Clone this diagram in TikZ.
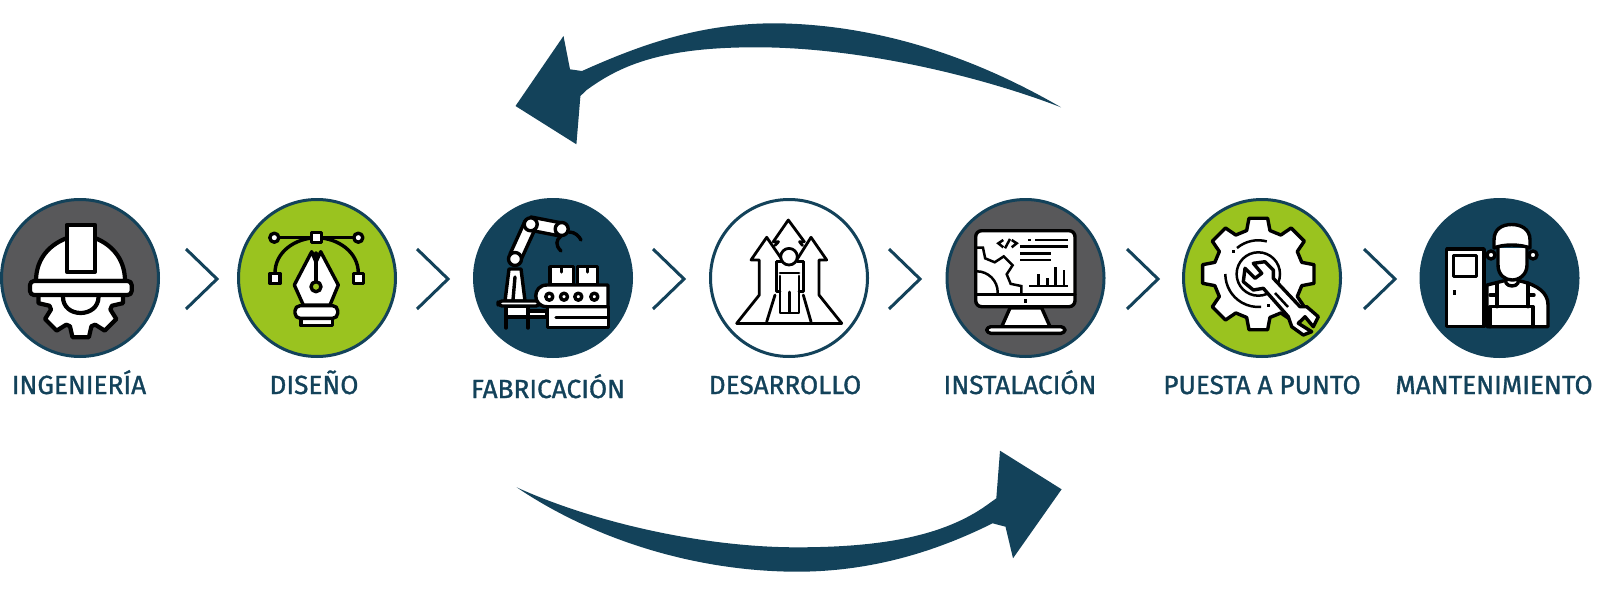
\documentclass[tikz,border=0pt]{standalone}
\usepackage{fontspec}
\setmainfont{Fira Sans}
\definecolor{navy}{HTML}{13425A}
\definecolor{leaf}{HTML}{9AC31F}
\definecolor{slate}{HTML}{58585A}
\tikzset{
    stepcircle/.style={circle,draw=navy,line width=1.5pt,minimum size=78.5pt,inner sep=0pt},
    steplabel/.style={anchor=base,text=navy,font=\fontsize{13.1}{15}\selectfont\addfontfeature{FakeBold=1.2}},
    chevron/.style={draw=navy,line width=1.5pt,line join=miter},
    iconline/.style={draw=black,fill=white,line width=1.7pt,line join=round,line cap=round},
    heavyline/.style={iconline,line width=2.1pt},
    pathline/.style={iconline,line width=1.4pt,fill=none},
    thinline/.style={draw=black,line width=1.25pt,line join=miter},
}
% gear outline round the origin: root radius, tip radius, half angles
\newcommand{\gearpath}[4]{(-#3:#1) \foreach \a in {0,45,...,315} {-- (\a-#3:#1) -- (\a-#4:#2) -- (\a+#4:#2) -- (\a+#3:#1)} -- cycle}
\begin{document}
\begin{tikzpicture}[x=.5pt,y=-.5pt]
    \useasboundingbox (0,0) rectangle (1600,594);

    % the steps
    \node [stepcircle,fill=slate] (ingenieria) at (80,278) {};
    \node [stepcircle,fill=leaf] (diseno) at (317,278) {};
    \node [stepcircle,fill=navy] (fabricacion) at (553,278) {};
    \node [stepcircle,fill=white] (desarrollo) at (789,278) {};
    \node [stepcircle,fill=slate] (instalacion) at (1025.5,278) {};
    \node [stepcircle,fill=leaf] (puesta) at (1262,278) {};
    \node [stepcircle,fill=navy] (mantenimiento) at (1499.5,278) {};

    \node [steplabel] (ingenierialabel) at (79,394) {INGENIERÍA};
    \node [steplabel] (disenolabel) at (314,394) {DISEÑO};
    \node [steplabel] (fabricacionlabel) at (548,398) {FABRICACIÓN};
    \node [steplabel] (desarrollolabel) at (785,394) {DESARROLLO};
    \node [steplabel] (instalacionlabel) at (1020,394) {INSTALACIÓN};
    \node [steplabel] (puestalabel) at (1262,394) {PUESTA A PUNTO};
    \node [steplabel] (mantenimientolabel) at (1494,394) {MANTENIMIENTO};

    \foreach \x in {186,417,653,889,1127,1364}
        \draw [chevron] (\x,249)--(\x+31,279)--(\x,309);

    % big arrows
    \coordinate (backtail) at (1061,107.3);
    \coordinate (forwardtail) at (516.6,487.3);
    \fill [navy] (backtail) .. controls (1000,72) and (900,25) .. (777,23.3)
        .. controls (700,23) and (640,45) .. (582,71)
        -- (570,69.3) -- (563.5,36) -- (515.5,106) -- (576.4,144.3) -- (580.4,96) -- (586.7,90)
        .. controls (622,64) and (665,47) .. (758,47.3)
        .. controls (860,47.5) and (980,76) .. (backtail) -- cycle;
    \fill [navy] (forwardtail) .. controls (590,537) and (690,571) .. (795,571.7)
        .. controls (870,572) and (935,552) .. (992.6,523.3)
        -- (1005.5,526.7) -- (1013,558.3) -- (1061.6,489.3) -- (1000,450.7) -- (996.3,498.3) -- (987,505)
        .. controls (945,535) and (885,547.5) .. (795,547.3)
        .. controls (700,547) and (590,521) .. (forwardtail) -- cycle;

    % helmet
    \draw [heavyline,shift={(80.7,295)}] \gearpath{33}{43}{19}{11};
    \draw [heavyline] (63,297) .. controls (63,307) and (71,313) .. (80.7,313)
        .. controls (90,313) and (98.5,307) .. (98.5,297);
    \draw [heavyline] (36,281) .. controls (36,262) and (46,246) .. (67,238)
        -- (95,238) .. controls (115,246) and (125,262) .. (125,281) -- cycle;
    \draw [heavyline,rounded corners=2pt] (30,281) rectangle (131.7,295);
    \draw [heavyline] (66.7,225) rectangle (95,271.7);

    % pen
    \draw [iconline,fill=none] (275,273) .. controls (275,252) and (295,238) .. (316.7,237.7)
        .. controls (338,238) and (358.3,252) .. (358.3,273);
    \draw [iconline,fill=none] (274.3,237.7)--(358.3,237.7);
    \draw [iconline] (274.3,237.7) circle [radius=4.5];
    \draw [iconline] (358.3,237.7) circle [radius=4.5];
    \draw [iconline] (311.7,232.7) rectangle (321.7,242.7);
    \draw [iconline] (270,273.5) rectangle (280,283.5);
    \draw [iconline] (353.3,273.5) rectangle (363.3,283.5);
    \draw [iconline] (311.7,251.7)--(294.3,285)--(303.3,305)--(330,305)--(338.3,285)--(320.7,251.7)--(316,262)--cycle;
    \draw [iconline] (316,253)--(316,282);
    \draw [iconline,fill=leaf] (316,286.7) circle [radius=5];
    \draw [iconline] (301,318.3) rectangle (332.3,325.7);
    \draw [iconline,rounded corners=2.5pt] (295,305.7) rectangle (337.7,318.3);

    % robot and conveyor
    \draw [iconline] (506,306) rectangle (528,317);
    \draw [iconline] (528,311) rectangle (547,317);
    \draw [iconline] (506,317)--(506,328);
    \draw [iconline] (528,317)--(528,328);
    \draw [iconline] (505,301)--(509,269)--(521,269)--(525,301)--cycle;
    \draw [iconline] (515,277)--(513,300);
    \draw [iconline,rounded corners=2pt] (498,301) rectangle (540,306);
    \draw [iconline] (510,254)--(525,221)--(536,227)--(520,262)--cycle;
    \draw [iconline] (531,217)--(562,223)--(560,236)--(529,230)--cycle;
    \draw [iconline] (515,259) circle [radius=6.5];
    \draw [iconline] (530.7,224.3) circle [radius=6.5];
    \draw [iconline] (561.7,229) circle [radius=6.5];
    \draw [iconline,fill=none] (569,232) .. controls (575,232) and (579,236) .. (581,240);
    \draw [iconline,fill=none] (561,236) .. controls (556,240) and (555,245) .. (561,251);
    \draw [iconline] (550,266.7) rectangle (573.3,284.3);
    \draw [iconline] (577.3,266.7) rectangle (597.3,284.3);
    \draw [iconline] (561.7,267)--(561.7,272);
    \draw [iconline] (587.3,267)--(587.3,272);
    \draw [iconline] (547.3,306.7) rectangle (608.3,327.7);
    \draw [iconline] (556,317.3)--(608,317.3);
    \draw [iconline] (547,285)--(608,285)--(608,306.7)--(547,306.7)
        .. controls (532,306.7) and (532,285) .. (547,285) -- cycle;
    \foreach \x in {549.3,564,578.3,594.3}
        \draw [iconline] (\x,296.7) circle [radius=3.5];

    % arrows and person
    \draw [pathline] (736.7,323.3)--(841.7,323.3);
    \draw [pathline] (773.3,241.7)--(788.3,220)--(804.3,241.7);
    \draw [pathline] (782.3,260)--(766.7,237.3)--(751,260)--(759.3,260)--(759.3,295)--(736.7,323.3);
    \draw [pathline] (796.7,260)--(811,237.3)--(826.7,260)--(819,260)--(819,295)--(841.7,323.3);
    \draw [pathline] (773.3,241.7)--(778.5,241.7)--(775,245.5);
    \draw [pathline] (804.3,241.7)--(799.5,241.7)--(802.5,245.5);
    \draw [pathline] (776.7,261.7)--(776.7,291.7)--(780,291.7);
    \draw [pathline] (803.3,261.7)--(803.3,291.7)--(799,291.7);
    \draw [pathline] (776.7,261.7)--(782,261.7);
    \draw [pathline] (803.3,261.7)--(797,261.7);
    \draw [pathline] (775,295)--(766.7,321.7);
    \draw [pathline] (803.3,295)--(811,321.7);
    \draw [pathline] (780,276)--(780,313)--(799,313)--(799,276);
    \draw [pathline] (780,273)--(799,273);
    \draw [pathline] (789.5,292)--(789.5,312);
    \draw [pathline,fill=white] (789,256.7) circle [radius=8.3];

    % monitor
    \draw [iconline] (1010,308)--(1001.7,326.7)--(1050,326.7)--(1041.7,308)--cycle;
    \draw [iconline,rounded corners=2pt] (986.7,326.7) rectangle (1065,333.3);
    \draw [iconline,rounded corners=3pt] (975.7,230.7) rectangle (1075,306.7);
    \begin{scope}
        \clip (977,232) rectangle (1074,293);
        \draw [thinline,shift={(976.7,292.3)}] \gearpath{35}{45}{14}{8};
        \draw [thinline] (976.7,292.3) circle [radius=21];
    \end{scope}
    \draw [iconline,fill=none] (975.7,294.3)--(1075,294.3);
    \fill (1024,299.3) rectangle (1027.4,302.7);
    \draw [thinline] (1003.3,240)--(998.3,243.3)--(1003.3,247.3);
    \draw [thinline] (1011.7,240)--(1016.7,243.3)--(1011.7,247.3);
    \draw [thinline] (1010,239)--(1005,248.3);
    \fill (1027.5,238.7) rectangle (1030.5,241.3);
    \draw [thinline] (1035,240)--(1068.3,240);
    \draw [thinline] (1020,246.7)--(1068.3,246.7);
    \draw [thinline] (1020,253.3)--(1050.7,253.3);
    \draw [thinline] (1020,260)--(1050.7,260);
    \draw [thinline] (1029.3,286)--(1068.3,286);
    \draw [thinline] (1038.3,286)--(1038.3,274.3);
    \draw [thinline] (1047.3,286)--(1047.3,278);
    \draw [thinline] (1055.7,286)--(1055.7,266.7);
    \draw [thinline] (1064,286)--(1064,270);

    % gear and wrench
    \draw [iconline,shift={(1258.3,274)}] \gearpath{45}{56.5}{15}{9.5};
    \draw [thinline] (1225.3,274) arc [start angle=180,end angle=85,radius=33];
    \draw [thinline] (1237,248) arc [start angle=-130,end angle=-75,radius=33];
    \draw [thinline] (1258.3,274) circle [radius=21.7];
    \fill (1232,249.5) rectangle (1235,252.5);
    \fill (1267,303.5) rectangle (1270,306.5);
    \draw [iconline] (1273.3,278.3)--(1300,306.7)--(1306.7,306.7)--(1318.3,316.7)--(1313.3,326.7)--(1305,316.7)--(1298.3,323.3)--(1311.7,331.7)--(1303.3,335)--(1291.7,326.7)--(1288.3,316.7)--(1263.3,288.3)--(1253.3,290)--(1243.3,281.7)--(1245,268.3)--(1255,278.3)--(1261.7,273.3)--(1253.3,263.3)--(1265,261.7)--(1273.3,270)--cycle;
    \draw [thinline] (1275,293)--(1288,307);

    % door and worker
    \draw [iconline] (1446.7,249) rectangle (1484,326.7);
    \draw [iconline] (1453.3,255.7) rectangle (1476.7,276.7);
    \fill (1452.7,290) rectangle (1455.5,295);
    \draw [iconline] (1487,326.7)--(1487,285)--(1503,281)--(1520,281)
        .. controls (1538,285) and (1548,293) .. (1548,305) -- (1548,326.7) -- cycle;
    \draw [iconline] (1506,272)--(1506,283) .. controls (1508,287) and (1516,287) .. (1518,283) -- (1518,272);
    \draw [iconline] (1491,255) circle [radius=4];
    \draw [iconline] (1533,255) circle [radius=4];
    \draw [iconline] (1498,248)--(1498,265) .. controls (1498,275) and (1505,280) .. (1512,280)
        .. controls (1519,280) and (1527,275) .. (1527,265) -- (1527,248);
    \draw [iconline] (1494,248)--(1494,240) .. controls (1494,229) and (1502,224.5) .. (1511.7,224.5)
        .. controls (1521,224.5) and (1530,229) .. (1530,240) -- (1530,248)
        .. controls (1520,244) and (1503,244) .. (1494,248) -- cycle;
    \draw [iconline,fill=none] (1491,306.7)--(1533,306.7);
    \draw [iconline,fill=none] (1490,306.7)--(1490,326.7);
    \draw [iconline,fill=none] (1533,306.7)--(1533,326.7);
    \draw [iconline,fill=none] (1497,283)--(1497,306.7);
    \draw [iconline,fill=none] (1528,283)--(1528,306.7);
    \draw [iconline,fill=none] (1490,295)--(1497,295);
    \draw [iconline,fill=none] (1528,295)--(1534,295);
\end{tikzpicture}
\end{document}
